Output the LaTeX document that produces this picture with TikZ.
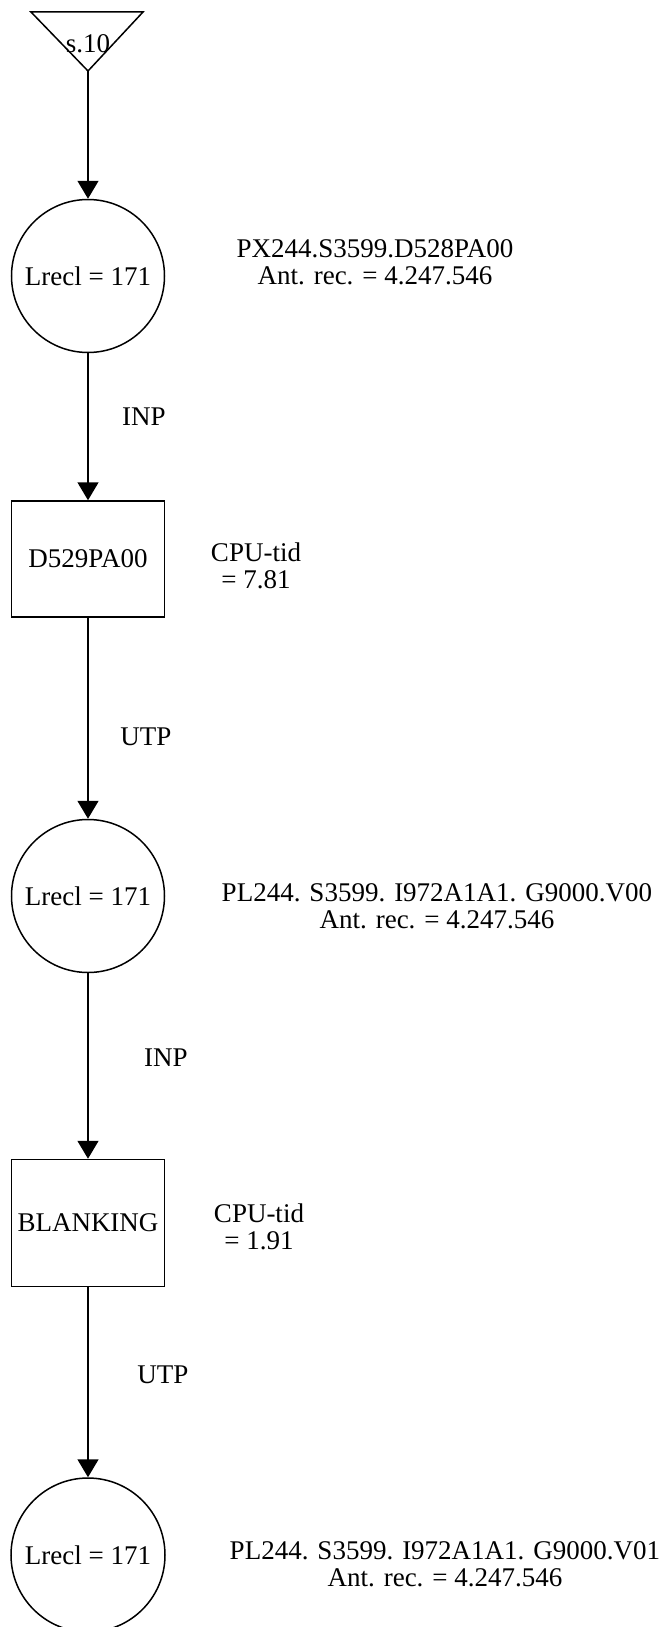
\documentclass[tikz,border=0pt]{standalone}
\usepackage{fontspec}
\setmainfont{Liberation Serif}
\usepackage{tikz}
\usetikzlibrary{positioning}
\usetikzlibrary{arrows.meta}

\tikzset{
	dataset/.style={draw, circle, line width=1.5pt, minimum size=153pt, inner sep=0pt},
	pgmbox/.style={draw, rectangle, line width=1.5pt, minimum width=153pt, inner sep=0pt},
	flow/.style={-{Triangle[width=21pt,length=18pt]}, line width=1.5pt},
	info/.style={align=center, inner sep=0pt},
}

\begin{document}
\begin{tikzpicture}[x=1pt, y=-1pt, font=\fontsize{27}{27}\selectfont]

		\useasboundingbox (0,0) rectangle (662,1627);

		% Start connector (triangle)
		\coordinate (T1) at (31,12);
		\coordinate (T2) at (143,12);
		\coordinate (T3) at (88,71);
		\draw[line width=1.5pt, line join=miter] (T1)--(T2)--(T3)--cycle;
		\node[inner sep=0pt] (s10) at (88,44) {s.10};

		% Data sets and programs
		\node[dataset] (lrecl1) at (88,276) {Lrecl = 171};
		\node[pgmbox, minimum height=116pt] (d529) at (88,559) {D529PA00};
		\node[dataset] (lrecl2) at (88,896) {Lrecl = 171};
		\node[pgmbox, minimum height=127pt] (blank) at (88,1223) {BLANKING};
		\node[dataset, minimum size=154pt] (lrecl3) at (88,1555) {Lrecl = 171};

		% Flow
		\draw[flow] (T3) -- (lrecl1);
		\draw[flow] (lrecl1) -- (d529);
		\draw[flow] (d529) -- (lrecl2);
		\draw[flow] (lrecl2) -- (blank);
		\draw[flow] (blank) -- (lrecl3);

		% Flow labels
		\node (inp1) at (144,417) {INP};
		\node (utp1) at (146,737) {UTP};
		\node (inp2) at (166,1058) {INP};
		\node (utp2) at (163,1375) {UTP};

		% Data set names and counts
		\node[info] (dsn1) at (375,262) {PX244.S3599.D528PA00\\Ant. rec. = 4.247.546};
		\node[info] (dsn2) at (437,906) {PL244. S3599. I972A1A1. G9000.V00\\Ant. rec. = 4.247.546};
		\node[info] (dsn3) at (445,1564) {PL244. S3599. I972A1A1. G9000.V01\\Ant. rec. = 4.247.546};

		% CPU times
		\node[info] (cpu1) at (256,566) {CPU-tid\\= 7.81};
		\node[info] (cpu2) at (259,1227) {CPU-tid\\= 1.91};

	\end{tikzpicture}
\end{document}
